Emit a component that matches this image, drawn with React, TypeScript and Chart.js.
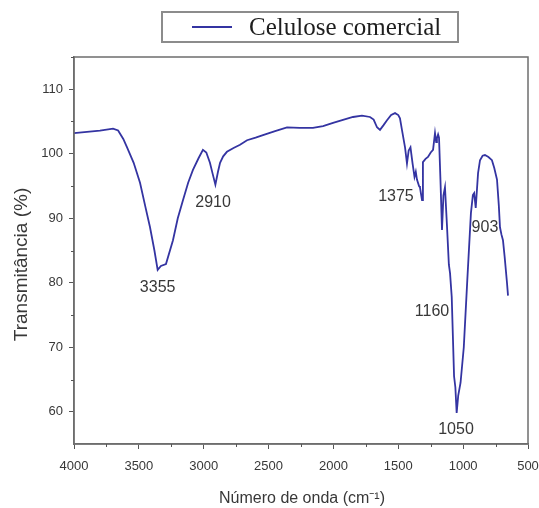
import { useEffect, useRef } from 'react';
import { Chart, registerables } from 'chart.js';

Chart.register(...registerables);

// FTIR spectrum of commercial cellulose
const seriesName = 'Celulose comercial';

const wavenumber = [
  4000, 3900, 3800, 3699, 3660, 3620, 3591, 3540, 3491, 3450, 3414, 3380, 3355, 3330, 3291,
  3237, 3200, 3160, 3120, 3083, 3040, 3006, 2980, 2952, 2930, 2910, 2890, 2874, 2850, 2821,
  2770, 2720, 2666, 2600, 2543, 2450, 2358, 2260, 2158, 2080, 2003, 1920, 1849, 1780, 1718,
  1690, 1664, 1641, 1615, 1587, 1555, 1525, 1500, 1487, 1470, 1448, 1433, 1420, 1406, 1390,
  1375, 1365, 1356, 1340, 1333, 1325, 1317, 1310, 1290, 1271, 1250, 1232, 1217, 1208, 1202,
  1193, 1186, 1175, 1163, 1152, 1140, 1125, 1110, 1101, 1088, 1070, 1060, 1050, 1038, 1020,
  995, 968, 940, 925, 915, 903, 885, 870, 850, 832, 805, 778, 760, 739, 725,
  716, 705, 693, 680, 662, 654,
];

const transmittance = [
  103.2, 103.4, 103.6, 103.9, 103.6, 102.3, 101.0, 98.6, 95.5, 91.8, 88.6, 85.0, 82.0, 82.6, 82.9,
  86.6, 90.0, 92.8, 95.5, 97.5, 99.3, 100.6, 100.2, 98.6, 96.8, 95.2, 97.2, 98.6, 99.6, 100.3,
  100.9, 101.4, 102.1, 102.5, 102.9, 103.5, 104.1, 104.0, 104.0, 104.3, 104.8, 105.3, 105.7, 105.9, 105.7,
  105.3, 104.1, 103.7, 104.4, 105.2, 106.0, 106.3, 106.0, 105.5, 103.5, 101.0, 98.5, 100.5, 101.0, 98.5,
  96.4, 97.2, 96.0, 95.0, 94.8, 93.8, 92.8, 98.7, 99.2, 99.5, 100.2, 100.6, 103.2, 101.8, 102.4,
  103.0, 102.5, 96.0, 88.2, 93.5, 94.8, 89.0, 82.8, 81.5, 77.8, 65.5, 63.8, 59.8, 62.5, 64.5,
  70.0, 80.4, 90.8, 93.6, 93.9, 91.6, 97.0, 99.0, 99.7, 99.8, 99.5, 99.0, 97.8, 96.0, 92.0,
  88.6, 87.5, 86.6, 84.0, 80.0, 78.0,
];

const xTicks = [4000, 3500, 3000, 2500, 2000, 1500, 1000, 500];
const xMinorTicks = [3750, 3250, 2750, 2250, 1750, 1250, 750];
const yTicks = [60, 70, 80, 90, 100, 110];
const yMinorTicks = [65, 75, 85, 95, 105, 115];

// Band annotations: text and the (wavenumber, transmittance) point each is centred on
const peakText = ['3355', '2910', '1375', '1160', '1050', '903'];
const peakTextX = [3355, 2928, 1518, 1240, 1055, 832];
const peakTextY = [79.3, 92.4, 93.3, 75.5, 57.2, 88.6];

const xTitle = 'Número de onda (cm⁻¹)';
const yTitle = 'Transmitância (%)';

const LINE_COLOR = '#3434a2';
const TEXT_COLOR = '#383838';
const SANS = '"Liberation Sans", Arial, sans-serif';

const decorPlugin = {
  id: 'decor',
  afterDraw(chart: any) {
    const { ctx, chartArea: a, scales } = chart;
    const xs = scales.x;
    const ys = scales.y;
    ctx.save();

    // box frame around the plot
    ctx.strokeStyle = '#6e6e6e';
    ctx.lineWidth = 1.5;
    ctx.strokeRect(a.left, a.top, a.right - a.left, a.bottom - a.top);

    // minor ticks
    ctx.strokeStyle = '#555';
    ctx.lineWidth = 1;
    ctx.beginPath();
    xMinorTicks.forEach((v) => {
      const px = Math.round(xs.getPixelForValue(v)) + 0.5;
      ctx.moveTo(px, a.bottom);
      ctx.lineTo(px, a.bottom + 3);
    });
    yMinorTicks.forEach((v) => {
      const py = Math.round(ys.getPixelForValue(v)) + 0.5;
      ctx.moveTo(a.left, py);
      ctx.lineTo(a.left - 3, py);
    });
    ctx.stroke();

    // band labels
    ctx.fillStyle = TEXT_COLOR;
    ctx.font = `16px ${SANS}`;
    ctx.textAlign = 'center';
    ctx.textBaseline = 'middle';
    peakText.forEach((t, i) => {
      ctx.fillText(t, xs.getPixelForValue(peakTextX[i]), ys.getPixelForValue(peakTextY[i]));
    });

    // axis titles
    ctx.font = `16px ${SANS}`;
    ctx.fillText(xTitle, (a.left + a.right) / 2 + 1, 499);
    ctx.save();
    ctx.translate(22, (a.top + a.bottom) / 2 + 14);
    ctx.rotate(-Math.PI / 2);
    ctx.font = `19px ${SANS}`;
    ctx.fillText(yTitle, 0, 0);
    ctx.restore();

    // legend box
    const lx = 162;
    const ly = 12;
    const lw = 296;
    const lh = 30;
    ctx.fillStyle = '#ffffff';
    ctx.fillRect(lx, ly, lw, lh);
    ctx.strokeStyle = '#8c8c8c';
    ctx.lineWidth = 2;
    ctx.strokeRect(lx, ly, lw, lh);
    ctx.strokeStyle = LINE_COLOR;
    ctx.lineWidth = 1.8;
    ctx.beginPath();
    ctx.moveTo(192, ly + lh / 2);
    ctx.lineTo(232, ly + lh / 2);
    ctx.stroke();
    ctx.fillStyle = '#1e1e1e';
    ctx.font = `25px "Liberation Serif", "Times New Roman", serif`;
    ctx.textAlign = 'left';
    ctx.fillText(chart.data.datasets[0].label, 249, ly + lh / 2 + 1);

    ctx.restore();
  },
};

export default function App() {
  const canvasRef = useRef<HTMLCanvasElement | null>(null);

  useEffect(() => {
    const canvas = canvasRef.current;
    if (!canvas) return;
    const points = wavenumber.map((w, i) => ({ x: w, y: transmittance[i] }));

    const chart = new Chart(canvas, {
      type: 'line',
      data: {
        datasets: [
          {
            label: seriesName,
            data: points,
            borderColor: LINE_COLOR,
            borderWidth: 1.8,
            pointRadius: 0,
            tension: 0,
            fill: false,
          },
        ],
      },
      options: {
        responsive: false,
        animation: false,
        layout: { padding: { top: 57, right: 11, left: 0, bottom: 0 } },
        plugins: {
          legend: { display: false },
          tooltip: { enabled: false },
        },
        scales: {
          x: {
            type: 'linear',
            reverse: true,
            min: 500,
            max: 4000,
            afterBuildTicks: (s: any) => {
              s.ticks = xTicks.map((v) => ({ value: v }));
            },
            afterFit: (s: any) => {
              s.height = 64;
              s.paddingLeft = 0;
              s.paddingRight = 0;
            },
            ticks: {
              autoSkip: false,
              maxRotation: 0,
              color: TEXT_COLOR,
              font: { family: SANS, size: 13 },
              padding: 10,
              callback: (v: any) => String(v),
            },
            grid: { drawOnChartArea: false, drawTicks: true, tickLength: 5, color: '#555' },
            border: { color: '#6e6e6e', width: 1.5 },
          },
          y: {
            type: 'linear',
            min: 55,
            max: 115,
            afterBuildTicks: (s: any) => {
              s.ticks = yTicks.map((v) => ({ value: v }));
            },
            afterFit: (s: any) => {
              s.width = 74;
              s.paddingTop = 0;
              s.paddingBottom = 0;
            },
            ticks: {
              color: TEXT_COLOR,
              font: { family: SANS, size: 13 },
              padding: 6,
              callback: (v: any) => String(v),
            },
            grid: { drawOnChartArea: false, drawTicks: true, tickLength: 5, color: '#555' },
            border: { color: '#6e6e6e', width: 1.5 },
          },
        },
      },
      plugins: [decorPlugin],
    });

    return () => chart.destroy();
  }, []);

  return (
    <div style={{ position: 'absolute', left: 0, top: 0, width: 539, height: 508, background: '#fff' }}>
      <canvas ref={canvasRef} width={539} height={508} style={{ display: 'block' }} />
    </div>
  );
}
